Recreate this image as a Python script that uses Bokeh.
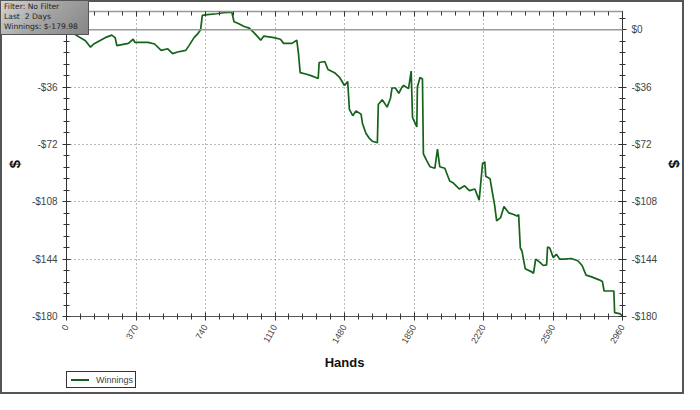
import math
from bokeh.plotting import figure
from bokeh.layouts import column
from bokeh.models import LinearAxis, FixedTicker, Range1d, Span, Div
from bokeh.embed import file_html
from bokeh.resources import INLINE

# ---- data ----
hands = [0, 31, 101, 128, 145, 206, 241, 259, 268, 329, 355, 364, 434, 469,
         504, 539, 565, 591, 635, 652, 679, 696, 714, 723, 749, 801, 836, 880,
         892, 912, 946, 973, 999, 1034, 1051, 1104, 1139, 1156, 1200, 1226,
         1235, 1244, 1279, 1305, 1340, 1345, 1375, 1392, 1427, 1454, 1480,
         1497, 1506, 1524, 1541, 1568, 1576, 1594, 1611, 1628, 1655, 1660,
         1681, 1707, 1725, 1733, 1751, 1769, 1786, 1795, 1821, 1835, 1842,
         1865, 1868, 1882, 1895, 1900, 1917, 1935, 1961, 1975, 1987, 2014,
         2040, 2057, 2092, 2119, 2145, 2174, 2197, 2215, 2227, 2232, 2255,
         2267, 2279, 2290, 2311, 2329, 2355, 2381, 2398, 2407, 2416, 2425,
         2442, 2477, 2486, 2498, 2521, 2538, 2556, 2561, 2573, 2591, 2608,
         2626, 2652, 2687, 2722, 2745, 2766, 2792, 2836, 2853, 2862, 2914,
         2918, 2949, 2958, 2960]
winnings = [-1.2, -2.0, -7.0, -11.0, -9.0, -5.0, -3.4, -5.0, -10.0, -8.6,
            -6.0, -8.0, -8.0, -9.0, -13.0, -12.0, -15.0, -14.0, -13.0, -10.0,
            -5.0, -3.0, 0.0, 9.0, 9.4, 10.0, 10.6, 11.0, 5.0, 4.0, 2.0, 1.0,
            -2.0, -6.6, -4.0, -5.0, -6.0, -8.6, -8.6, -6.6, -15.0, -27.0,
            -28.0, -29.0, -30.6, -20.6, -20.0, -25.0, -27.0, -30.0, -35.0,
            -32.6, -50.0, -54.0, -51.0, -53.0, -59.0, -65.0, -68.0, -70.0,
            -71.0, -47.0, -44.0, -48.6, -43.0, -36.6, -36.6, -40.0, -36.0,
            -35.0, -37.0, -26.0, -55.0, -61.0, -36.0, -30.0, -31.0, -78.0,
            -82.0, -86.0, -87.0, -75.0, -86.0, -87.0, -95.0, -96.0, -100.0,
            -98.0, -101.0, -100.0, -107.0, -84.0, -83.0, -92.0, -93.6, -102.0,
            -110.0, -120.0, -118.0, -111.0, -115.0, -116.0, -117.0, -116.0,
            -137.0, -139.0, -150.0, -152.0, -153.0, -144.0, -146.0, -148.0,
            -147.6, -136.4, -137.0, -143.0, -141.0, -144.0, -144.0, -143.6,
            -145.0, -148.0, -154.0, -155.0, -157.0, -158.0, -164.0, -164.0,
            -177.6, -178.4, -179.6, -179.98]

x_ticks = [0, 370, 740, 1110, 1480, 1850, 2220, 2590, 2960]
y_ticks = [-180, -144, -108, -72, -36, 0]
y_tick_labels = ["-$180", "-$144", "-$108", "-$72", "-$36", "$0"]
x_minor = [i * 74 for i in range(0, 41)]
y_minor = [-180 + i * 7.2 for i in range(0, 27)]

info_lines = ["Filter: No Filter", "Last&nbsp; 2 Days", "Winnings: $-179.98"]
series_name = "Winnings"

FONT = "Liberation Sans"
GREEN = "#13631a"

p = figure(width=684, height=394, output_backend="svg", toolbar_location=None,
           x_range=Range1d(0, 2960), y_range=Range1d(-180, 11.4),
           min_border_left=64, min_border_right=64, min_border_top=9,
           min_border_bottom=80, outline_line_color="#999",
           background_fill_color="white", border_fill_color="white")
p.styles = {"border": "2px solid #555", "box-sizing": "border-box"}

overrides = {t: l for t, l in zip(y_ticks, y_tick_labels)}

def style_y(ax):
    ax.ticker = FixedTicker(ticks=y_ticks, minor_ticks=y_minor)
    ax.major_label_overrides = overrides
    ax.axis_label = "$"
    ax.axis_label_text_font = FONT
    ax.axis_label_text_font_style = "bold"
    ax.axis_label_text_font_size = "15px"
    ax.axis_label_text_color = "#111"
    ax.axis_label_standoff = 6
    ax.major_label_text_font = FONT
    ax.major_label_text_font_size = "10px"
    ax.major_label_text_color = "#444"
    ax.axis_line_color = "#333"
    ax.major_tick_line_color = "#333"
    ax.minor_tick_line_color = "#333"
    ax.major_tick_in = 4
    ax.major_tick_out = 4
    ax.minor_tick_in = 3
    ax.minor_tick_out = 3
    ax.major_label_standoff = 5

style_y(p.yaxis[0])
ra = LinearAxis()
style_y(ra)
p.add_layout(ra, "right")

xa = p.xaxis[0]
xa.ticker = FixedTicker(ticks=x_ticks, minor_ticks=x_minor)
xa.axis_label = "Hands"
xa.axis_label_text_font = FONT
xa.axis_label_text_font_style = "bold"
xa.axis_label_text_font_size = "13px"
xa.axis_label_text_color = "#111"
xa.major_label_text_font = FONT
xa.major_label_text_font_size = "9px"
xa.major_label_text_color = "#444"
xa.major_label_orientation = math.pi / 3
xa.axis_line_color = "#555"
xa.major_tick_line_color = "#333"
xa.minor_tick_line_color = "#333"
xa.major_tick_in = 4
xa.major_tick_out = 4
xa.minor_tick_in = 3
xa.minor_tick_out = 3
xa.major_label_standoff = 5
xa.axis_label_standoff = 6

ta = LinearAxis()
ta.ticker = FixedTicker(ticks=x_ticks, minor_ticks=x_minor)
ta.major_label_text_font_size = "1px"
ta.major_label_text_alpha = 0
ta.major_label_standoff = 0
ta.axis_line_color = "#999"
ta.axis_line_width = 1.5
ta.major_tick_line_color = "#333"
ta.minor_tick_line_color = "#333"
ta.major_tick_in = 5
ta.major_tick_out = 0
ta.minor_tick_in = 4
ta.minor_tick_out = 0
p.add_layout(ta, "above")

p.xgrid.ticker = FixedTicker(ticks=x_ticks)
p.ygrid.ticker = FixedTicker(ticks=y_ticks[1:-1])
for g in (p.xgrid, p.ygrid):
    g.grid_line_color = "#777"
    g.grid_line_dash = "1 3"
    g.grid_line_width = 1

p.add_layout(Span(location=0, dimension="width", line_color="#999",
                  line_width=1.5))

r = p.line(hands, winnings, line_color=GREEN, line_width=1.7)

info = Div(text="<br>".join(info_lines), disable_math=True, margin=0,
           styles={"position": "absolute", "left": "0px", "top": "0px",
                   "z-index": "10", "width": "84px", "height": "32px",
                   "padding": "1px 0px 0px 3px", "box-sizing": "content-box",
                   "background": "linear-gradient(135deg, #d4d4d4 0%, #a4a4a4 50%, #868686 100%)",
                   "border": "1px solid #555",
                   "font-family": "DejaVu Sans", "font-size": "7.6px",
                   "line-height": "10px", "color": "#222",
                   "white-space": "nowrap", "overflow": "hidden"})

legend_html = ('<div style="display:flex;align-items:center;height:13px;'
               'line-height:13px;">'
               '<span style="display:inline-block;width:18px;height:0;'
               'border-top:2px solid ' + GREEN + ';margin:0 7px 0 4px;"></span>'
               + series_name + '</div>')
legend_div = Div(text=legend_html, margin=0,
                 styles={"position": "absolute", "left": "66px", "top": "371px",
                         "z-index": "10", "width": "70px",
                         "border": "1px solid #333", "background": "white",
                         "font-family": FONT, "font-size": "9px",
                         "color": "#444", "white-space": "nowrap",
                         "overflow": "hidden"})

layout = column(p, info, legend_div, styles={"position": "relative"})

open("out.html", "w").write(file_html(layout, INLINE))
